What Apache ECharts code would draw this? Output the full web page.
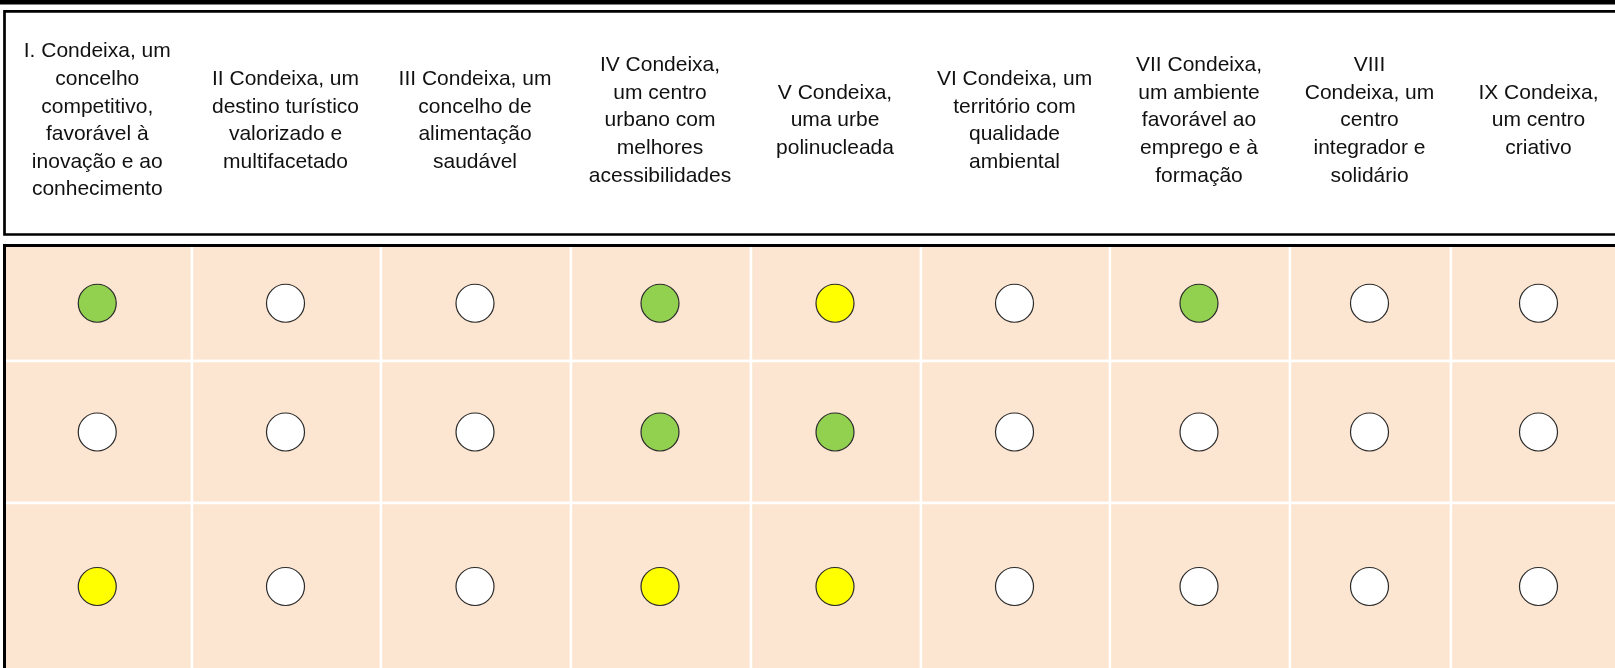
<!DOCTYPE html>
<html>
<head>
<meta charset="utf-8">
<script src="https://cdn.jsdelivr.net/npm/echarts@6/dist/echarts.min.js"></script>
<style>
  html, body { margin: 0; padding: 0; background: #ffffff; }
  #chart { width: 1615px; height: 668px; }
</style>
</head>
<body>
<div id="chart"></div>
<script>
// ---- Data ----
const columns = [
  "I. Condeixa, um\nconcelho\ncompetitivo,\nfavorável à\ninovação e ao\nconhecimento",
  "II Condeixa, um\ndestino turístico\nvalorizado e\nmultifacetado",
  "III Condeixa, um\nconcelho de\nalimentação\nsaudável",
  "IV Condeixa,\num centro\nurbano com\nmelhores\nacessibilidades",
  "V Condeixa,\numa urbe\npolinucleada",
  "VI Condeixa, um\nterritório com\nqualidade\nambiental",
  "VII Condeixa,\num ambiente\nfavorável ao\nemprego e à\nformação",
  "VIII\nCondeixa, um\ncentro\nintegrador e\nsolidário",
  "IX Condeixa,\num centro\ncriativo"
];
const row1 = ["verde", "branco", "branco", "verde", "amarelo", "branco", "verde", "branco", "branco"];
const row2 = ["branco", "branco", "branco", "verde", "verde", "branco", "branco", "branco", "branco"];
const row3 = ["amarelo", "branco", "branco", "amarelo", "amarelo", "branco", "branco", "branco", "branco"];
const rows = [row1, row2, row3];

// ---- Layout / style (not data) ----
const colWidths = [187.5, 189, 190, 180, 170, 189, 180, 161, 177];
const rowHeights = [115.5, 142, 167];
const statusColors = { verde: "#92D050", amarelo: "#FFFF00", branco: "#FFFFFF" };

const colEdges = [0];
colWidths.forEach(w => colEdges.push(colEdges[colEdges.length - 1] + w));
const rowEdges = [0];
rowHeights.forEach(h => rowEdges.push(rowEdges[rowEdges.length - 1] + h));
const totalW = colEdges[colEdges.length - 1];
const totalH = rowEdges[rowEdges.length - 1];

const cellData = [];
const dotData = [];
rows.forEach((r, ri) => {
  r.forEach((status, ci) => {
    cellData.push([ci, ri]);
    dotData.push({
      value: [(colEdges[ci] + colEdges[ci + 1]) / 2 - 1, (rowEdges[ri] + rowEdges[ri + 1]) / 2],
      itemStyle: { color: statusColors[status] }
    });
  });
});
const headerData = columns.map((c, i) => [i]);

const chart = echarts.init(document.getElementById('chart'), null, { renderer: 'canvas' });
chart.setOption({
  animation: false,
  backgroundColor: '#ffffff',
  grid: [
    { left: 4.5, top: 245.5, width: totalW, height: totalH, show: true, z: 10,
      containLabel: false, outerBoundsMode: 'none',
      backgroundColor: 'transparent', borderColor: '#000', borderWidth: 3 },
    { left: 4.5, top: 11.3, width: totalW, height: 223.2, show: true,
      containLabel: false, outerBoundsMode: 'none',
      backgroundColor: '#ffffff', borderColor: '#000', borderWidth: 2.7 }
  ],
  xAxis: [
    { type: 'value', gridIndex: 0, min: 0, max: totalW, show: false },
    { type: 'value', gridIndex: 1, min: 0, max: totalW, show: false }
  ],
  yAxis: [
    { type: 'value', gridIndex: 0, min: 0, max: totalH, inverse: true, show: false },
    { type: 'value', gridIndex: 1, min: 0, max: 1, inverse: true, show: false }
  ],
  graphic: [
    { type: 'rect', left: 0, top: 0, shape: { width: 1615, height: 4.5 }, style: { fill: '#000' }, z: 20 }
  ],
  series: [
    {
      type: 'custom',
      xAxisIndex: 0, yAxisIndex: 0,
      data: cellData,
      silent: true,
      clip: false,
      renderItem: function (params, api) {
        const ci = api.value(0), ri = api.value(1);
        const p0 = api.coord([colEdges[ci], rowEdges[ri]]);
        const p1 = api.coord([colEdges[ci + 1], rowEdges[ri + 1]]);
        return {
          type: 'rect',
          shape: { x: Math.min(p0[0], p1[0]), y: Math.min(p0[1], p1[1]),
                   width: Math.abs(p1[0] - p0[0]), height: Math.abs(p1[1] - p0[1]) },
          style: { fill: '#FDE6D1', stroke: '#ffffff', lineWidth: 2.4 }
        };
      },
      z: 1
    },
    {
      type: 'scatter',
      xAxisIndex: 0, yAxisIndex: 0,
      data: dotData,
      symbol: 'circle',
      symbolSize: 38,
      itemStyle: { borderColor: '#2a2a2a', borderWidth: 1.2, opacity: 1 },
      silent: true,
      z: 3
    },
    {
      type: 'custom',
      xAxisIndex: 1, yAxisIndex: 1,
      data: headerData,
      silent: true,
      renderItem: function (params, api) {
        const ci = api.value(0);
        const p = api.coord([(colEdges[ci] + colEdges[ci + 1]) / 2 - 1, 0.49]);
        return {
          type: 'text',
          x: p[0], y: p[1],
          style: {
            text: columns[ci],
            fill: '#111',
            font: '21px "Liberation Sans", Arial, sans-serif',
            lineHeight: 27.6,
            align: 'center',
            verticalAlign: 'middle'
          }
        };
      },
      z: 5
    }
  ]
});
</script>
</body>
</html>
